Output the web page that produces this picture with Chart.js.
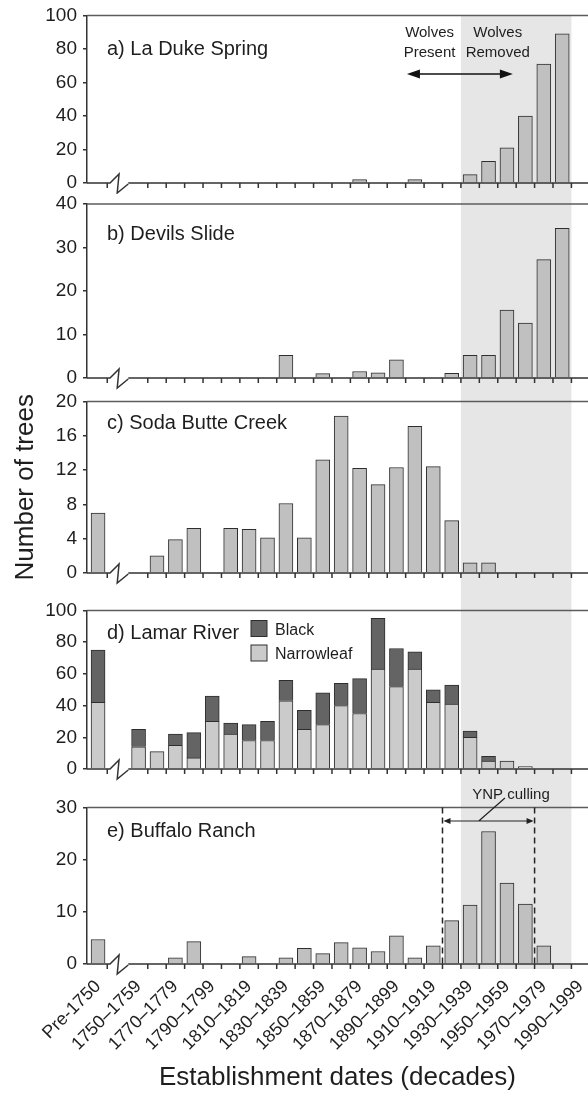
<!DOCTYPE html>
<html>
<head>
<meta charset="utf-8">
<script src="https://cdn.jsdelivr.net/npm/chart.js@4.4.0/dist/chart.umd.min.js"></script>
<style>
  html, body { margin: 0; padding: 0; background: #fff; }
  #fig { position: relative; width: 588px; height: 1095px; overflow: hidden; }
  #fig canvas { position: absolute; left: 0; }
</style>
</head>
<body>
<div id="fig">
  <canvas id="panelA" width="588" height="194" style="top:0px"></canvas>
  <canvas id="panelB" width="588" height="196" style="top:194px"></canvas>
  <canvas id="panelC" width="588" height="198" style="top:390px"></canvas>
  <canvas id="panelD" width="588" height="197" style="top:588px"></canvas>
  <canvas id="panelE" width="588" height="310" style="top:785px"></canvas>
</div>
<script>
/* Aspen establishment dates, five sites (stacked panels) */

const categories = [
  'Pre-1750', '1750–1759', '1760–1769', '1770–1779', '1780–1789', '1790–1799',
  '1800–1809', '1810–1819', '1820–1829', '1830–1839', '1840–1849', '1850–1859',
  '1860–1869', '1870–1879', '1880–1889', '1890–1899', '1900–1909', '1910–1919',
  '1920–1929', '1930–1939', '1940–1949', '1950–1959', '1960–1969', '1970–1979',
  '1980–1989', '1990–1999'
];
const xTickLabels = [
  'Pre-1750', '1750–1759', '1770–1779', '1790–1799', '1810–1819', '1830–1839', '1850–1859',
  '1870–1879', '1890–1899', '1910–1919', '1930–1939', '1950–1959', '1970–1979', '1990–1999'
];

const laDukeSpring   = [0, 0, 0, 0, 0, 0, 0, 0, 0, 0, 0, 0, 0, 2, 0, 0, 2, 0, 0, 5, 13, 21, 40, 71, 89, 0];
const devilsSlide    = [0, 0, 0, 0, 0, 0, 0, 0, 0, 5.2, 0, 1, 0, 1.5, 1.2, 4.2, 0, 0, 1.1, 5.2, 5.2, 15.6, 12.6, 27.2, 34.4, 0];
const sodaButteCreek = [7, 0, 2, 3.9, 5.2, 0, 5.2, 5.1, 4.1, 8.1, 4.1, 13.2, 18.3, 12.2, 10.3, 12.3, 17.1, 12.4, 6.1, 1.2, 1.2, 0, 0, 0, 0, 0];
const lamarNarrowleaf = [42, 14, 11, 15, 7, 30, 22, 18, 18, 43, 25, 28, 40, 35, 63, 52, 63, 42, 41, 20, 5, 5, 1.5, 0, 0, 0];
const lamarBlack      = [33, 11, 0, 7, 16, 16, 7, 10, 12, 13, 12, 20, 14, 22, 32, 24, 11, 8, 12, 4, 3, 0, 0, 0, 0, 0];
const buffaloRanch   = [4.7, 0, 0, 1.2, 4.3, 0, 0, 1.4, 0, 1.2, 3.0, 2.0, 4.1, 3.1, 2.4, 5.4, 1.2, 3.5, 8.3, 11.3, 25.4, 15.5, 11.5, 3.5, 0, 0];

const yTicksA = [0, 20, 40, 60, 80, 100];
const yTicksB = [0, 10, 20, 30, 40];
const yTicksC = [0, 4, 8, 12, 16, 20];
const yTicksD = [0, 20, 40, 60, 80, 100];
const yTicksE = [0, 10, 20, 30];

// x axis runs in decades, 0 = 1750; pre-1750 sits left of the axis break
const PRE_X = -1.7;
const X_MIN = -2.3;
const X_MAX = 24.9;
const WOLVES_REMOVED = [18, 24];   // 1930 - 1990
const YNP_CULLING = [17, 22];      // 1920 - 1970
const AXIS_LEFT = 87;

const INK = '#1e1e1e';
const BAR = '#c0c0c0';
const LIGHT = '#cbcbcb';
const DARK = '#646464';
const EDGE = '#2e2e2e';
const FONT = "'Liberation Sans', Arial, Helvetica, sans-serif";

Chart.defaults.font.family = FONT;
Chart.defaults.color = INK;

function xOf(i) {
  return i === 0 ? PRE_X : i - 0.5;
}

function points(values) {
  return values.map((v, i) => ({ x: xOf(i), y: v > 0 ? v : null }));
}

function series(label, values, color) {
  return {
    label,
    data: points(values),
    backgroundColor: color,
    borderColor: EDGE,
    borderWidth: 1,
    borderSkipped: 'start',
    barThickness: (c) => (c.dataIndex === 0 ? 12 : 14),
  };
}

function arrowHead(ctx, x, y, dir, len, half) {
  ctx.beginPath();
  ctx.moveTo(x, y);
  ctx.lineTo(x - dir * len, y - half);
  ctx.lineTo(x - dir * len, y + half);
  ctx.closePath();
  ctx.fill();
}

const decor = {
  id: 'decor',
  beforeDraw(chart, args, o) {
    const { ctx, chartArea: a, scales: { x } } = chart;
    const x0 = x.getPixelForValue(WOLVES_REMOVED[0]);
    const x1 = x.getPixelForValue(WOLVES_REMOVED[1]);
    const top = o.bandFromTop ? a.top : 0;
    const bottom = o.bandToAxis ? a.bottom + 5 : chart.height;
    ctx.save();
    ctx.fillStyle = '#e6e6e6';
    ctx.fillRect(x0, top, x1 - x0, bottom - top);
    ctx.restore();
  },
  afterDraw(chart, args, o) {
    const { ctx, chartArea: a, scales: { x } } = chart;
    const px = (v) => x.getPixelForValue(v);
    const y0 = a.bottom;
    ctx.save();
    ctx.lineWidth = 1.5;

    ctx.strokeStyle = '#5c5c5c';
    ctx.beginPath();
    ctx.moveTo(a.left, a.top);
    ctx.lineTo(a.right, a.top);
    ctx.stroke();

    // zero line with the axis break
    ctx.strokeStyle = '#333';
    ctx.beginPath();
    ctx.moveTo(a.left, y0);
    ctx.lineTo(px(-1.05), y0);
    ctx.lineTo(px(-0.56), y0 - 9);
    ctx.lineTo(px(-0.66), y0 + 10);
    ctx.lineTo(px(-0.06), y0 + 1);
    ctx.moveTo(px(-0.06), y0);
    ctx.lineTo(a.right, y0);
    ctx.stroke();

    ctx.beginPath();
    const marks = [PRE_X + 0.5];
    for (let v = 1; v <= 25; v++) marks.push(v);
    marks.forEach((v) => {
      ctx.moveTo(px(v), y0);
      ctx.lineTo(px(v), y0 + 5);
    });
    ctx.stroke();

    ctx.fillStyle = INK;
    ctx.font = '20px ' + FONT;
    ctx.textAlign = 'left';
    ctx.textBaseline = 'alphabetic';
    ctx.fillText(o.title, a.left + 20, a.top + o.titleDy);

    if (o.extra) o.extra(ctx, a, px);
    ctx.restore();
  },
};

function wolvesNote(ctx, a, px) {
  ctx.font = '15px ' + FONT;
  ctx.textAlign = 'center';
  ctx.fillText('Wolves', px(16.3), 37);
  ctx.fillText('Present', px(16.3), 57);
  ctx.fillText('Wolves', px(20.0), 37);
  ctx.fillText('Removed', px(20.0), 57);
  const xl = px(15.07), xr = px(20.82), y = 74;
  ctx.strokeStyle = '#111';
  ctx.beginPath();
  ctx.moveTo(xl + 8, y);
  ctx.lineTo(xr - 8, y);
  ctx.stroke();
  ctx.fillStyle = '#111';
  arrowHead(ctx, xl, y, -1, 13, 4.5);
  arrowHead(ctx, xr, y, 1, 13, 4.5);
}

function lamarLegend(ctx, a) {
  const bx = a.left + 164;
  ctx.lineWidth = 1;
  ctx.strokeStyle = EDGE;
  [[DARK, 'Black', 10], [LIGHT, 'Narrowleaf', 34.5]].forEach(([color, label, dy]) => {
    ctx.fillStyle = color;
    ctx.fillRect(bx, a.top + dy, 16, 16);
    ctx.strokeRect(bx, a.top + dy, 16, 16);
    ctx.fillStyle = INK;
    ctx.font = '16px ' + FONT;
    ctx.fillText(label, bx + 24, a.top + dy + 14);
  });
}

function cullingNote(ctx, a, px) {
  const xl = px(YNP_CULLING[0]), xr = px(YNP_CULLING[1]);
  ctx.strokeStyle = '#222';
  ctx.setLineDash([6, 4]);
  ctx.beginPath();
  ctx.moveTo(xl, a.top);
  ctx.lineTo(xl, a.bottom);
  ctx.moveTo(xr, a.top);
  ctx.lineTo(xr, a.bottom);
  ctx.stroke();
  ctx.setLineDash([]);
  const y = 36;
  ctx.lineWidth = 1.2;
  ctx.beginPath();
  ctx.moveTo(xl + 3, y);
  ctx.lineTo(xr - 3, y);
  ctx.moveTo(px(18.97), y);
  ctx.lineTo(px(20.39), 13);
  ctx.stroke();
  ctx.fillStyle = '#222';
  arrowHead(ctx, xl + 1, y, -1, 7, 3);
  arrowHead(ctx, xr - 1, y, 1, 7, 3);
  ctx.fillStyle = INK;
  ctx.font = '15px ' + FONT;
  ctx.textAlign = 'center';
  ctx.fillText('YNP culling', px(20.72), 14);
}

function makePanel(id, datasets, yTicks, deco, opts = {}) {
  const xScale = {
    type: 'linear',
    min: X_MIN,
    max: X_MAX,
    bounds: 'data',
    offset: false,
    stacked: !!opts.stacked,
    display: !!opts.xLabels,
  };
  if (opts.xLabels) {
    Object.assign(xScale, {
      grid: { display: false, drawTicks: false },
      border: { display: false },
      afterBuildTicks: (s) => {
        s.ticks = xTickLabels.map((t) => ({ value: xOf(categories.indexOf(t)) }));
      },
      afterFit: (s) => {
        s.height = opts.xHeight;
        s.paddingLeft = 0;
        s.paddingRight = 0;
      },
      ticks: {
        autoSkip: false,
        minRotation: 45,
        maxRotation: 45,
        padding: 12,
        font: { size: 18 },
        color: INK,
        callback: (v, i) => xTickLabels[i],
      },
      title: {
        display: true,
        text: 'Establishment dates (decades)',
        font: { size: 26 },
        color: INK,
        padding: { top: 0, bottom: 2 },
      },
    });
  }

  const yScale = {
    min: 0,
    max: yTicks[yTicks.length - 1],
    stacked: !!opts.stacked,
    afterBuildTicks: (s) => {
      s.ticks = yTicks.map((v) => ({ value: v }));
    },
    afterFit: (s) => {
      s.width = AXIS_LEFT;
      s.paddingTop = 0;
      s.paddingBottom = 0;
    },
    grid: { drawOnChartArea: false, tickLength: 4, color: '#333', lineWidth: 1.5 },
    border: { color: '#333', width: 1.5 },
    ticks: { padding: 6, font: { size: 19 }, color: INK },
  };
  if (opts.yTitle) {
    yScale.title = {
      display: true,
      text: opts.yTitle,
      font: { size: 26 },
      color: INK,
      padding: { top: 10, bottom: 0 },
    };
  }

  return new Chart(document.getElementById(id), {
    type: 'bar',
    data: { datasets },
    options: {
      responsive: false,
      animation: false,
      events: [],
      layout: { padding: { top: deco.padTop, bottom: deco.padBottom, left: 0, right: 0 } },
      plugins: {
        legend: { display: false },
        tooltip: { enabled: false },
        decor: deco,
      },
      scales: { x: xScale, y: yScale },
    },
    plugins: [decor],
  });
}

makePanel('panelA', [series('La Duke Spring', laDukeSpring, BAR)], yTicksA,
  { title: 'a) La Duke Spring', titleDy: 39.5, padTop: 15.5, padBottom: 11, bandFromTop: true, extra: wolvesNote });

makePanel('panelB', [series('Devils Slide', devilsSlide, BAR)], yTicksB,
  { title: 'b) Devils Slide', titleDy: 36, padTop: 10, padBottom: 12 });

makePanel('panelC', [series('Soda Butte Creek', sodaButteCreek, BAR)], yTicksC,
  { title: 'c) Soda Butte Creek', titleDy: 27.5, padTop: 11.5, padBottom: 15 },
  { yTitle: 'Number of trees' });

makePanel('panelD', [series('Narrowleaf', lamarNarrowleaf, LIGHT), series('Black', lamarBlack, DARK)], yTicksD,
  { title: 'd) Lamar River', titleDy: 28.5, padTop: 22.5, padBottom: 16, extra: lamarLegend },
  { stacked: true });

makePanel('panelE', [series('Buffalo Ranch', buffaloRanch, BAR)], yTicksE,
  { title: 'e) Buffalo Ranch', titleDy: 29.5, padTop: 22.5, padBottom: 0, bandToAxis: true, extra: cullingNote },
  { xLabels: true, xHeight: 131 });
</script>
</body>
</html>
